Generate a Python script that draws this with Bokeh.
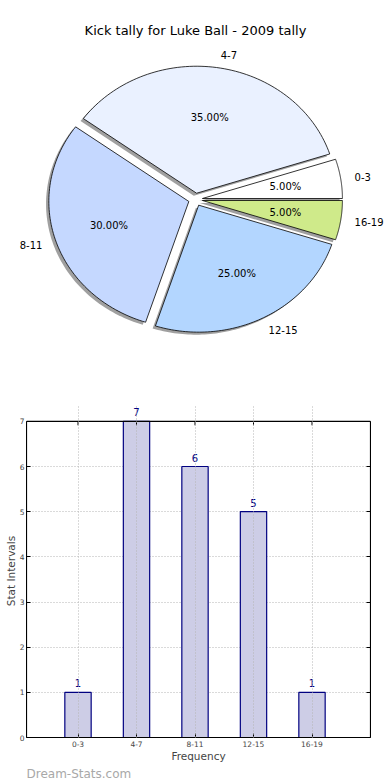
import numpy as np
from bokeh.plotting import figure
from bokeh.models import ColumnDataSource, Label, LabelSet, FixedTicker, LinearAxis, Range1d, Title
from bokeh.layouts import column, row
from bokeh.embed import file_html
from bokeh.resources import INLINE
from bokeh.core.properties import value

# ---------------- data ----------------
title_text = "Kick tally for Luke Ball - 2009 tally"
categories = ["0-3", "4-7", "8-11", "12-15", "16-19"]
counts = [1, 7, 6, 5, 1]
pie_colors = ["#FFFFFF", "#EAF1FF", "#C5D8FF", "#B3D6FF", "#CFEA8A"]
y_ticks = [0, 1, 2, 3, 4, 5, 6, 7]
x_label = "Frequency"
y_label = "Stat Intervals"
watermark = "Dream-Stats.com"

FONT = "DejaVu Sans"
explode = 0.05
shadow_off = 0.02

# ---------------- pie ----------------
total = float(sum(counts))
fracs = np.array(counts) / total
ends = np.cumsum(fracs) * 2 * np.pi
starts = ends - fracs * 2 * np.pi
mids = (starts + ends) / 2

xs, ys, sxs, sys_ = [], [], [], []
for s, e, m in zip(starts, ends, mids):
    t = np.linspace(s, e, 80)
    cx, cy = explode * np.cos(m), explode * np.sin(m)
    px = np.concatenate([[cx], cx + np.cos(t)])
    py = np.concatenate([[cy], cy + np.sin(t)])
    xs.append(px.tolist())
    ys.append(py.tolist())
    sxs.append((px - shadow_off).tolist())
    sys_.append((py - shadow_off).tolist())

W = 390
H1 = 393
XPX, YPX = 140.0, 127.0  # pixels per unit radius
CX, CY = 195.0, 199.0     # pie centre in canvas pixels
p1 = figure(width=W, height=H1,
            x_range=Range1d(-CX / XPX, (W - CX) / XPX),
            y_range=Range1d(-(H1 - CY) / YPX, CY / YPX),
            x_axis_type=None, y_axis_type=None,
            output_backend="svg", toolbar_location=None, min_border=0)
p1.grid.visible = False
p1.outline_line_color = None

p1.patches(sxs, sys_, fill_color="#A0A0A0", line_color=None)
p1.patches(xs, ys, fill_color=pie_colors, line_color="black", line_width=0.8)

lab_r = 1.1 + explode
lx = lab_r * np.cos(mids)
ly = lab_r * np.sin(mids)
aligns = ["left" if v > 0 else "right" for v in lx]
p1.text(x=lx.tolist(), y=ly.tolist(), text=categories, text_align=aligns,
        text_baseline="middle", text_font=value(FONT), text_font_size="10px",
        text_color="black")

pct_r = 0.6 + explode
pct_text = ["%.2f%%" % (f * 100) for f in fracs]
p1.text(x=(pct_r * np.cos(mids)).tolist(), y=(pct_r * np.sin(mids)).tolist(),
        text=pct_text, text_align="center", text_baseline="middle",
        text_font=value(FONT), text_font_size="10px", text_color="black")

p1.add_layout(Label(x=0, y=(CY - 30) / YPX, text=title_text, text_align="center",
                    text_baseline="middle", text_font=FONT, text_font_size="13px",
                    text_color="black"))

# ---------------- bars ----------------
H2 = 780 - H1
xpos = list(range(len(categories)))
UX, UY = 58.5, 319 / 7.0
FL = 26                       # frame left (px)
x_start = -(77.5 - FL) / UX
x_end = 5.0
y_end = 7 + 17 / UY           # room above the frame box for the value labels
p2 = figure(width=W, height=H2,
            x_range=Range1d(x_start, x_end), y_range=Range1d(0, y_end),
            output_backend="svg", toolbar_location=None,
            min_border_left=FL, min_border_right=20,
            min_border_top=421 - 17 - H1, min_border_bottom=40)
p2.outline_line_color = None

src = ColumnDataSource(dict(x=xpos, top=counts, lab=[str(c) for c in counts]))

p2.xgrid.ticker = FixedTicker(ticks=xpos)
p2.ygrid.ticker = FixedTicker(ticks=y_ticks)
for g in (p2.xgrid[0], p2.ygrid[0]):
    g.grid_line_color = "#B4B4B4"
    g.grid_line_dash = "1 2"
    g.grid_line_width = 1
p2.xgrid[0].bounds = (0, 7)
p2.ygrid[0].bounds = (x_start, x_end)
p2.xgrid.level = "overlay"

p2.vbar(x="x", top="top", width=0.45, source=src, fill_color="#CDCDE6",
        line_color="#000080", line_width=1.2)

# axes box (top edge and ticks at y = 7)
p2.quad(left=[x_start], right=[x_end], bottom=[0], top=[7], fill_color=None,
        line_color="black", line_width=1.2)
p2.segment(x0=xpos, y0=[7] * len(xpos), x1=xpos, y1=[7 - 4 / UY] * len(xpos),
           line_color="black", line_width=1)

p2.add_layout(LabelSet(x="x", y="top", text="lab", source=src, y_offset=5,
                       text_align="center", text_baseline="alphabetic",
                       text_font=value(FONT), text_font_size="10px",
                       text_color="#000080"))

def style_axis(ax, show_labels=True):
    ax.axis_line_color = "black"
    ax.major_tick_in = 4
    ax.major_tick_out = 0
    ax.minor_tick_line_color = None
    ax.major_tick_line_color = "black"
    ax.major_label_text_font = FONT
    ax.major_label_text_font_size = "7.5px" if show_labels else "0px"
    ax.major_label_standoff = 3

p2.xaxis.ticker = FixedTicker(ticks=xpos)
p2.yaxis.ticker = FixedTicker(ticks=y_ticks)
p2.xaxis.major_label_overrides = {i: c for i, c in zip(xpos, categories)}
style_axis(p2.xaxis[0])
style_axis(p2.yaxis[0])
p2.yaxis[0].major_label_standoff = 2
p2.yaxis[0].bounds = (0, 7)
p2.xaxis.axis_label = x_label
p2.xaxis.axis_label_text_font = FONT
p2.xaxis.axis_label_text_font_size = "10.5px"
p2.xaxis.axis_label_text_font_style = "normal"
p2.xaxis.axis_label_standoff = 0
p2.yaxis.axis_label = y_label
p2.yaxis.axis_label_text_font = FONT
p2.yaxis.axis_label_text_font_size = "10.5px"
p2.yaxis.axis_label_text_font_style = "normal"
p2.yaxis.axis_label_standoff = 0

right_ax = LinearAxis(ticker=FixedTicker(ticks=y_ticks), bounds=(0, 7))
style_axis(right_ax, False)
right_ax.major_label_overrides = {i: "" for i in y_ticks}
p2.add_layout(right_ax, "right")

p2.add_layout(Title(text=watermark, align="left", text_font=FONT,
                    text_font_size="12px", text_font_style="normal",
                    text_color="#A8A8A8", standoff=0, offset=0), "below")

layout = column(row(p1), row(p2), spacing=0)
open("out.html", "w").write(file_html(layout, INLINE))
